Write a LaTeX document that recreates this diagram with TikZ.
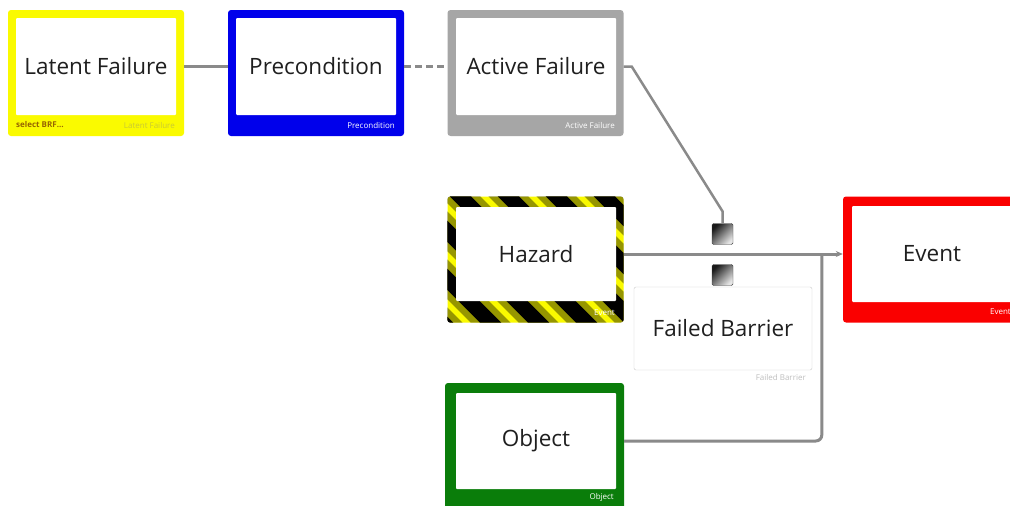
\documentclass[tikz,border=0pt]{standalone}
\usepackage{fontspec}
\setmainfont{Open Sans}
\usetikzlibrary{arrows.meta}
\definecolor{linkgray}{RGB}{138,138,138}
\definecolor{latyellow}{RGB}{250,250,0}
\definecolor{preblue}{RGB}{0,0,235}
\definecolor{actgray}{RGB}{166,166,166}
\definecolor{evtred}{RGB}{250,0,0}
\definecolor{objgreen}{RGB}{10,125,10}
\definecolor{tagbrown}{RGB}{150,100,0}
\begin{document}
\begin{tikzpicture}[x=1pt,y=-1pt,
    frame/.style={fill=#1, rounded corners=3pt, minimum width=176pt, minimum height=126pt, inner sep=0pt},
    face/.style={fill=white, rounded corners=1pt, minimum width=160pt, minimum height=97pt, inner sep=0pt, text=black!88, font=\fontsize{22.5}{26}\selectfont},
    tag/.style={inner sep=0pt, font=\fontsize{8}{9}\selectfont},
    link/.style={draw=linkgray, line width=3pt},
    gate/.style={draw=black!75, rounded corners=1.5pt, minimum size=21pt, inner sep=0pt, left color=black!90, right color=black!10, shading angle=45}]
    \clip (0,0) rectangle (1010,506);
    \fill[white] (0,0) rectangle (1010,506);
    % top row
    \node[frame=latyellow] (lat) at (96,73) {};
    \node[face] (latf) at (96,66.5) {Latent Failure};
    \node[tag, anchor=west, text=tagbrown, font=\fontsize{8}{9}\selectfont\bfseries] (latt1) at (16,125) {select BRF…};
    \node[tag, anchor=east, text=latyellow!60!gray] (latt2) at (175,125) {Latent Failure};
    \node[frame=preblue] (pre) at (316,73) {};
    \node[face] (pref) at (316,66.5) {Precondition};
    \node[tag, anchor=east, text=white] (pret) at (395,125) {Precondition};
    \node[frame=actgray] (act) at (535.5,73) {};
    \node[face] (actf) at (536,66.5) {Active Failure};
    \node[tag, anchor=east, text=white] (actt) at (615,125) {Active Failure};
    % hazard
    \node[frame=latyellow] (haz) at (535.5,259.5) {};
    \begin{scope}
        \clip[rounded corners=3pt] (haz.south west) rectangle (haz.north east);
        \foreach \s in {300,348,...,640} {
            \draw[black, opacity=0.4, line width=28pt] (\s,180) -- ++(160,160);
            \draw[black, line width=15pt] (\s,180) -- ++(160,160);
        }
    \end{scope}
    \node[face, minimum height=94pt] (hazf) at (536,254) {Hazard};
    \node[tag, anchor=east, text=white] (hazt) at (615,313) {Event};
    % barrier
    \node[gate] (g1) at (722.5,234) {};
    \node[gate] (g2) at (722.5,275) {};
    \node[draw=black!20, fill=white, rounded corners=2pt, minimum width=178pt, minimum height=83pt, inner sep=0pt, text=black!88, font=\fontsize{22.5}{26}\selectfont] (bar) at (723,328.5) {Failed Barrier};
    \node[tag, anchor=east, text=black!25] (bart) at (806,377) {Failed Barrier};
    % event
    \node[frame=evtred] (evt) at (931,259.5) {};
    \node[face, minimum height=96pt] (evtf) at (932,254) {Event};
    \node[tag, anchor=east, text=white] (evtt) at (1011,312) {Event};
    % object
    \node[frame=objgreen, minimum width=179pt] (obj) at (534.5,446) {};
    \node[face, minimum height=96pt] (objf) at (536,441) {Object};
    \node[tag, anchor=east, text=white] (objt) at (614,497) {Object};
    % links
    \draw[link] (lat.east |- latf) -- (pre.west |- pref);
    \draw[link, dash pattern=on 7pt off 4pt] (pre.east |- pref) -- (act.west |- actf);
    \draw[link, line width=2.5pt] (g1.north) -- ++(0,-12) -- ([xshift=8pt]act.east |- actf) -- (act.east |- actf);
    \draw[link, rounded corners=6pt] (obj.east |- objf) -| ([xshift=-21pt]evt.west |- hazf);
    \draw[link, -{Stealth[length=7pt,width=6pt]}] (haz.east |- hazf) -- (evt.west |- hazf);
\end{tikzpicture}
\end{document}
